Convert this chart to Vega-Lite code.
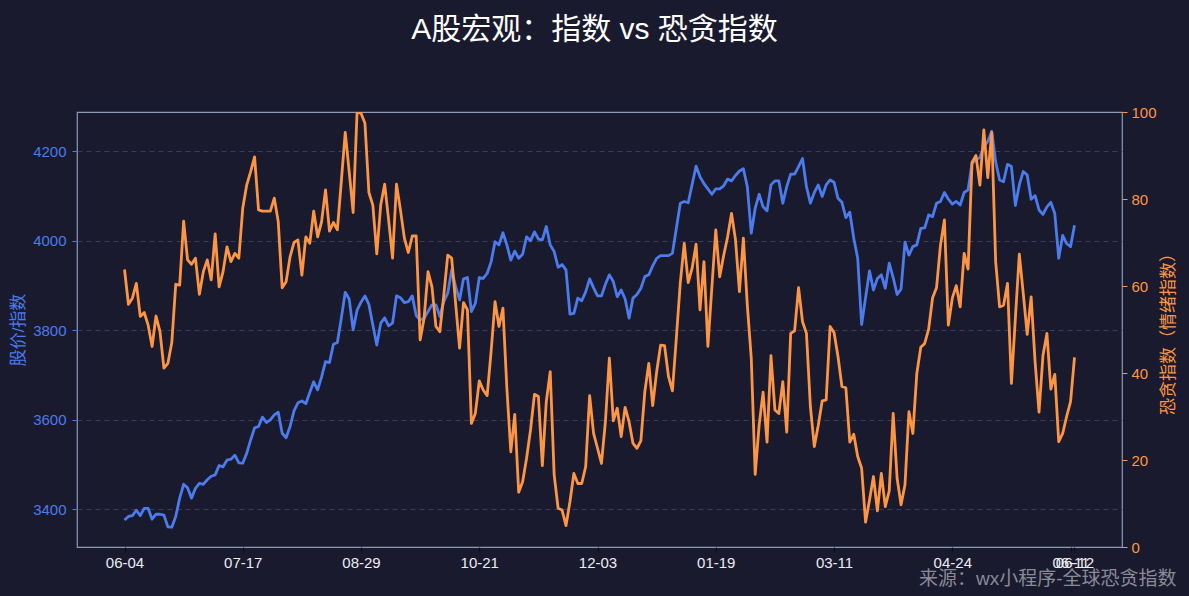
{
  "$schema": "https://vega.github.io/schema/vega-lite/v6.json",
  "width": 1045,
  "height": 435,
  "autosize": {"type": "none"},
  "padding": {"left": 77, "top": 112, "right": 67, "bottom": 49},
  "background": "#1a1a2e",
  "config": {
    "view": {"stroke": "#8b9bb4", "strokeWidth": 1.2, "fill": "#1a1a2e"},
    "font": "Liberation Sans, Noto Sans CJK SC"
  },
  "title": {
    "text": "A股宏观：指数 vs 恐贪指数",
    "color": "#ffffff",
    "fontSize": 30,
    "font": "Liberation Sans, Noto Sans CJK SC",
    "fontWeight": "normal",
    "anchor": "middle",
    "baseline": "bottom",
    "offset": 30,
    "dx": -5
  },
  "data": {"values": [
    {"i":0,"price":3376,"fg":63.8},{"i":1,"price":3384,"fg":55.8},{"i":2,"price":3386,"fg":57.2},{"i":3,"price":3398,"fg":60.6},{"i":4,"price":3386,"fg":53.0},
    {"i":5,"price":3402,"fg":53.9},{"i":6,"price":3402,"fg":51.0},{"i":7,"price":3378,"fg":46.1},{"i":8,"price":3389,"fg":53.1},{"i":9,"price":3389,"fg":49.5},
    {"i":10,"price":3387,"fg":41.1},{"i":11,"price":3361,"fg":42.2},{"i":12,"price":3360,"fg":47.0},{"i":13,"price":3384,"fg":60.4},{"i":14,"price":3425,"fg":60.2},
    {"i":15,"price":3456,"fg":74.9},{"i":16,"price":3448,"fg":66.0},{"i":17,"price":3425,"fg":65.0},{"i":18,"price":3447,"fg":66.4},{"i":19,"price":3458,"fg":58.1},
    {"i":20,"price":3456,"fg":63.3},{"i":21,"price":3466,"fg":66.0},{"i":22,"price":3474,"fg":61.4},{"i":23,"price":3477,"fg":72.0},{"i":24,"price":3498,"fg":59.8},
    {"i":25,"price":3495,"fg":63.3},{"i":26,"price":3510,"fg":69.0},{"i":27,"price":3512,"fg":65.6},{"i":28,"price":3521,"fg":67.5},{"i":29,"price":3504,"fg":66.4},
    {"i":30,"price":3503,"fg":77.9},{"i":31,"price":3525,"fg":83.2},{"i":32,"price":3555,"fg":86.3},{"i":33,"price":3582,"fg":89.7},{"i":34,"price":3585,"fg":77.5},
    {"i":35,"price":3606,"fg":77.2},{"i":36,"price":3594,"fg":77.2},{"i":37,"price":3600,"fg":77.2},{"i":38,"price":3611,"fg":80.2},{"i":39,"price":3617,"fg":74.8},
    {"i":40,"price":3570,"fg":59.6},{"i":41,"price":3560,"fg":61.0},{"i":42,"price":3585,"fg":66.7},{"i":43,"price":3620,"fg":70.0},{"i":44,"price":3638,"fg":70.6},
    {"i":45,"price":3642,"fg":62.5},{"i":46,"price":3636,"fg":71.3},{"i":47,"price":3661,"fg":69.8},{"i":48,"price":3685,"fg":77.2},{"i":49,"price":3667,"fg":71.3},
    {"i":50,"price":3696,"fg":74.8},{"i":51,"price":3730,"fg":82.1},{"i":52,"price":3728,"fg":72.6},{"i":53,"price":3769,"fg":74.6},{"i":54,"price":3773,"fg":72.9},
    {"i":55,"price":3827,"fg":84.0},{"i":56,"price":3885,"fg":95.3},{"i":57,"price":3870,"fg":86.3},{"i":58,"price":3801,"fg":76.9},{"i":59,"price":3845,"fg":100},
    {"i":60,"price":3863,"fg":99.7},{"i":61,"price":3877,"fg":97.4},{"i":62,"price":3858,"fg":81.5},{"i":63,"price":3812,"fg":78.6},{"i":64,"price":3767,"fg":67.4},
    {"i":65,"price":3816,"fg":78.6},{"i":66,"price":3828,"fg":83.4},{"i":67,"price":3810,"fg":75.2},{"i":68,"price":3816,"fg":66.4},{"i":69,"price":3877,"fg":83.4},
    {"i":70,"price":3873,"fg":77.5},{"i":71,"price":3862,"fg":71.0},{"i":72,"price":3864,"fg":67.7},{"i":73,"price":3877,"fg":71.5},{"i":74,"price":3833,"fg":71.5},
    {"i":75,"price":3823,"fg":47.6},{"i":76,"price":3827,"fg":52.6},{"i":77,"price":3842,"fg":63.3},{"i":78,"price":3857,"fg":59.8},{"i":79,"price":3857,"fg":50.7},
    {"i":80,"price":3831,"fg":49.5},{"i":81,"price":3864,"fg":57.9},{"i":82,"price":3883,"fg":67.1},{"i":83,"price":3935,"fg":66.4},{"i":84,"price":3898,"fg":56.0},
    {"i":85,"price":3868,"fg":45.7},{"i":86,"price":3915,"fg":56.2},{"i":87,"price":3918,"fg":54.5},{"i":88,"price":3842,"fg":28.4},{"i":89,"price":3860,"fg":30.7},
    {"i":90,"price":3918,"fg":38.2},{"i":91,"price":3916,"fg":36.1},{"i":92,"price":3927,"fg":34.8},{"i":93,"price":3953,"fg":44.9},{"i":94,"price":3998,"fg":56.4},
    {"i":95,"price":3991,"fg":50.7},{"i":96,"price":4018,"fg":54.9},{"i":97,"price":3991,"fg":36.5},{"i":98,"price":3957,"fg":21.9},{"i":99,"price":3977,"fg":30.5},
    {"i":100,"price":3961,"fg":12.6},{"i":101,"price":3970,"fg":15.0},{"i":102,"price":4009,"fg":20.4},{"i":103,"price":4000,"fg":26.9},{"i":104,"price":4020,"fg":35.1},
    {"i":105,"price":4004,"fg":34.6},{"i":106,"price":4002,"fg":18.7},{"i":107,"price":4032,"fg":33.4},{"i":108,"price":3991,"fg":40.3},{"i":109,"price":3976,"fg":16.6},
    {"i":110,"price":3941,"fg":8.9},{"i":111,"price":3947,"fg":8.5},{"i":112,"price":3935,"fg":4.9},{"i":113,"price":3836,"fg":10.4},{"i":114,"price":3838,"fg":16.9},
    {"i":115,"price":3872,"fg":14.6},{"i":116,"price":3866,"fg":14.6},{"i":117,"price":3886,"fg":18.5},{"i":118,"price":3915,"fg":34.8},{"i":119,"price":3895,"fg":26.1},
    {"i":120,"price":3877,"fg":22.7},{"i":121,"price":3877,"fg":19.2},{"i":122,"price":3903,"fg":28.8},{"i":123,"price":3924,"fg":43.4},{"i":124,"price":3909,"fg":29.0},
    {"i":125,"price":3875,"fg":31.9},{"i":126,"price":3890,"fg":25.4},{"i":127,"price":3870,"fg":32.1},{"i":128,"price":3827,"fg":28.8},{"i":129,"price":3872,"fg":23.8},
    {"i":130,"price":3880,"fg":22.7},{"i":131,"price":3894,"fg":24.4},{"i":132,"price":3920,"fg":35.7},{"i":133,"price":3924,"fg":42.2},{"i":134,"price":3944,"fg":32.5},
    {"i":135,"price":3961,"fg":40.3},{"i":136,"price":3967,"fg":46.4},{"i":137,"price":3967,"fg":46.3},{"i":138,"price":3967,"fg":39.2},{"i":139,"price":3972,"fg":35.9},
    {"i":140,"price":4028,"fg":48.1},{"i":141,"price":4084,"fg":60.8},{"i":142,"price":4088,"fg":69.8},{"i":143,"price":4085,"fg":60.8},{"i":144,"price":4126,"fg":64.1},
    {"i":145,"price":4167,"fg":69.6},{"i":146,"price":4143,"fg":54.5},{"i":147,"price":4128,"fg":65.6},{"i":148,"price":4116,"fg":46.1},{"i":149,"price":4104,"fg":59.6},
    {"i":150,"price":4116,"fg":72.9},{"i":151,"price":4116,"fg":62.1},{"i":152,"price":4123,"fg":67.0},{"i":153,"price":4138,"fg":71.3},{"i":154,"price":4134,"fg":76.7},
    {"i":155,"price":4146,"fg":70.6},{"i":156,"price":4156,"fg":58.7},{"i":157,"price":4161,"fg":71.0},{"i":158,"price":4121,"fg":55.6},{"i":159,"price":4017,"fg":43.4},
    {"i":160,"price":4073,"fg":16.7},{"i":161,"price":4104,"fg":28.0},{"i":162,"price":4076,"fg":35.6},{"i":163,"price":4067,"fg":24.1},{"i":164,"price":4125,"fg":44.0},
    {"i":165,"price":4134,"fg":31.5},{"i":166,"price":4134,"fg":30.7},{"i":167,"price":4084,"fg":38.0},{"i":168,"price":4121,"fg":26.4},{"i":169,"price":4149,"fg":49.1},
    {"i":170,"price":4149,"fg":49.7},{"i":171,"price":4166,"fg":59.6},{"i":172,"price":4184,"fg":51.8},{"i":173,"price":4121,"fg":49.1},{"i":174,"price":4084,"fg":32.3},
    {"i":175,"price":4108,"fg":23.1},{"i":176,"price":4125,"fg":28.0},{"i":177,"price":4099,"fg":33.6},{"i":178,"price":4125,"fg":33.8},{"i":179,"price":4136,"fg":50.7},
    {"i":180,"price":4131,"fg":49.3},{"i":181,"price":4095,"fg":43.8},{"i":182,"price":4086,"fg":36.9},{"i":183,"price":4052,"fg":36.6},{"i":184,"price":4064,"fg":24.1},
    {"i":185,"price":4006,"fg":25.9},{"i":186,"price":3961,"fg":20.8},{"i":187,"price":3813,"fg":18.1},{"i":188,"price":3873,"fg":5.7},{"i":189,"price":3933,"fg":10.8},
    {"i":190,"price":3890,"fg":16.2},{"i":191,"price":3916,"fg":8.3},{"i":192,"price":3924,"fg":16.9},{"i":193,"price":3894,"fg":9.3},{"i":194,"price":3950,"fg":12.9},
    {"i":195,"price":3918,"fg":30.7},{"i":196,"price":3880,"fg":15.8},{"i":197,"price":3892,"fg":9.7},{"i":198,"price":3997,"fg":14.3},{"i":199,"price":3968,"fg":31.1},
    {"i":200,"price":3987,"fg":26.1},{"i":201,"price":3991,"fg":39.9},{"i":202,"price":4028,"fg":45.9},{"i":203,"price":4029,"fg":46.8},{"i":204,"price":4058,"fg":50.1},
    {"i":205,"price":4054,"fg":57.3},{"i":206,"price":4084,"fg":59.6},{"i":207,"price":4088,"fg":69.4},{"i":208,"price":4108,"fg":75.2},{"i":209,"price":4093,"fg":51.0},
    {"i":210,"price":4082,"fg":57.2},{"i":211,"price":4088,"fg":60.1},{"i":212,"price":4080,"fg":55.2},{"i":213,"price":4108,"fg":67.5},{"i":214,"price":4114,"fg":63.9},
    {"i":215,"price":4173,"fg":88.4},{"i":216,"price":4181,"fg":90.0},{"i":217,"price":4186,"fg":83.2},{"i":218,"price":4210,"fg":95.9},{"i":219,"price":4222,"fg":84.9},
    {"i":220,"price":4245,"fg":95.3},{"i":221,"price":4177,"fg":65.6},{"i":222,"price":4136,"fg":55.2},{"i":223,"price":4132,"fg":55.6},{"i":224,"price":4171,"fg":60.6},
    {"i":225,"price":4166,"fg":37.6},{"i":226,"price":4079,"fg":52.6},{"i":227,"price":4125,"fg":67.3},{"i":228,"price":4155,"fg":58.3},{"i":229,"price":4147,"fg":48.9},
    {"i":230,"price":4093,"fg":57.5},{"i":231,"price":4101,"fg":42.6},{"i":232,"price":4069,"fg":31.0},{"i":233,"price":4059,"fg":44.0},{"i":234,"price":4076,"fg":49.1},
    {"i":235,"price":4086,"fg":36.3},{"i":236,"price":4061,"fg":39.7},{"i":237,"price":3961,"fg":24.2},{"i":238,"price":4012,"fg":26.1},{"i":239,"price":3994,"fg":30.0},
    {"i":240,"price":3987,"fg":33.4},{"i":241,"price":4035,"fg":43.6}
  ]},
  "encoding": {
    "x": {
      "field": "i",
      "type": "quantitative",
      "scale": {"domain": [-12.05, 253.05], "nice": false, "zero": false},
      "axis": {
        "values": [0, 30, 60, 90, 120, 150, 180, 210, 240, 241],
        "labelExpr": "datum.value == 0 ? '06-04' : datum.value == 30 ? '07-17' : datum.value == 60 ? '08-29' : datum.value == 90 ? '10-21' : datum.value == 120 ? '12-03' : datum.value == 150 ? '01-19' : datum.value == 180 ? '03-11' : datum.value == 210 ? '04-24' : datum.value == 240 ? '06-11' : '06-12'",
        "labelOverlap": false,
        "labelFlush": false,
        "labelBound": false,
        "labelColor": "#ececf2",
        "labelFontSize": 15,
        "labelFont": "Liberation Sans, Noto Sans CJK SC",
        "labelPadding": 3,
        "ticks": true,
        "tickColor": "#0e0e16",
        "tickSize": 5,
        "tickWidth": 1.2,
        "domain": false,
        "grid": false,
        "title": "来源：wx小程序-全球恐贪指数",
        "titleColor": "#8a8a98",
        "titleFontSize": 19,
        "titleFont": "Liberation Sans, Noto Sans CJK SC",
        "titleFontWeight": "normal",
        "titleAlign": "right",
        "titleBaseline": "middle",
        "titleX": 1099,
        "titleY": 31
      }
    }
  },
  "layer": [
    {
      "mark": {"type": "line", "color": "#4b7bec", "strokeWidth": 2.8, "strokeJoin": "round", "clip": true},
      "encoding": {
        "y": {
          "field": "price",
          "type": "quantitative",
          "scale": {"domain": [3315.8, 4287.9], "nice": false, "zero": false},
          "axis": {
            "orient": "left",
            "values": [3400, 3600, 3800, 4000, 4200],
            "format": "d",
            "labelColor": "#4b7bec",
            "labelFontSize": 15,
            "labelFont": "Liberation Sans, Noto Sans CJK SC",
            "labelPadding": 6,
            "ticks": true,
            "tickColor": "#4b7bec",
            "tickSize": 5,
            "domain": false,
            "grid": true,
            "gridColor": "#3a3d58",
            "gridDash": [5, 4],
            "gridWidth": 1,
            "title": "股价/指数",
            "titleColor": "#4b7bec",
            "titleFontSize": 17,
            "titleFont": "Liberation Sans, Noto Sans CJK SC",
            "titleFontWeight": "normal",
            "titleAngle": 270,
            "titleAlign": "center",
            "titleBaseline": "middle",
            "titleX": -59,
            "titleY": 217.5
          }
        }
      }
    },
    {
      "mark": {"type": "line", "color": "#fd9644", "strokeWidth": 2.8, "strokeJoin": "round", "clip": true},
      "encoding": {
        "y": {
          "field": "fg",
          "type": "quantitative",
          "scale": {"domain": [0, 100], "nice": false, "zero": true},
          "axis": {
            "orient": "right",
            "values": [0, 20, 40, 60, 80, 100],
            "labelColor": "#fd9644",
            "labelFontSize": 15,
            "labelFont": "Liberation Sans, Noto Sans CJK SC",
            "labelPadding": 4,
            "ticks": true,
            "tickColor": "#fd9644",
            "tickSize": 5,
            "domain": false,
            "grid": false,
            "title": "恐贪指数（情绪指数）",
            "titleColor": "#fd9644",
            "titleFontSize": 17,
            "titleFont": "Liberation Sans, Noto Sans CJK SC",
            "titleFontWeight": "normal",
            "titleAngle": 270,
            "titleAlign": "center",
            "titleBaseline": "middle",
            "titleX": 46,
            "titleY": 217.5
          }
        }
      }
    }
  ],
  "resolve": {"scale": {"y": "independent"}}
}
